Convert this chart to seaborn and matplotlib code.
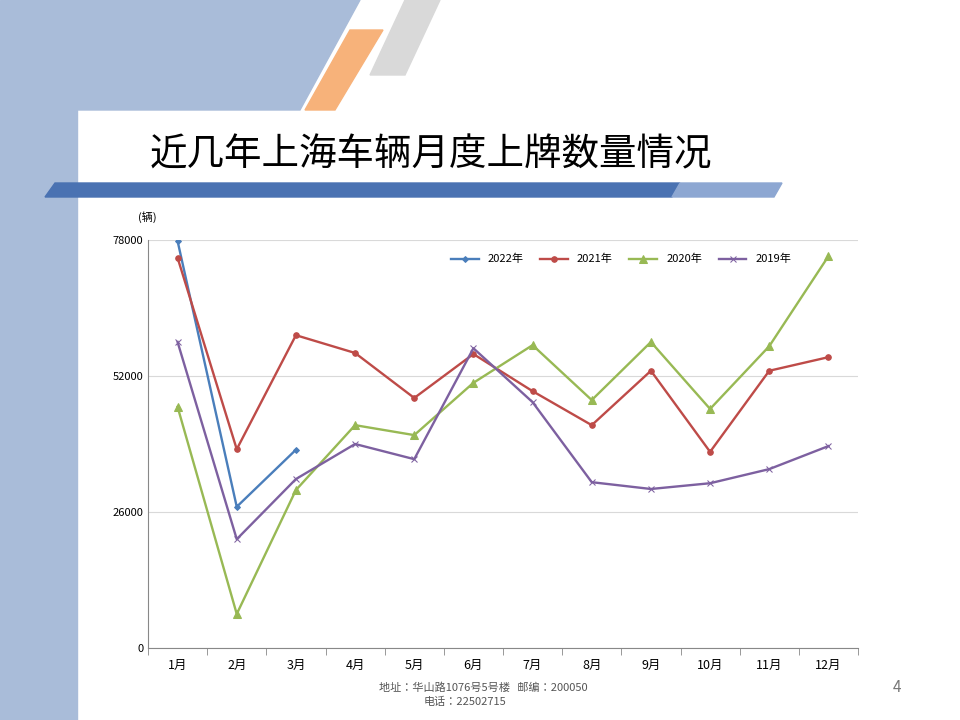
import matplotlib
matplotlib.use("Agg")
import matplotlib.pyplot as plt
from matplotlib import font_manager
from matplotlib.patches import Rectangle, Polygon
import seaborn as sns
import pandas as pd

cjk = sorted({f.name for f in font_manager.fontManager.ttflist if "CJK" in f.name})
pref = [n for n in ["Noto Sans CJK SC", "Noto Sans CJK JP"] if n in cjk] or cjk
plt.rcParams["font.family"] = "sans-serif"
plt.rcParams["font.sans-serif"] = pref + ["DejaVu Sans"]

months = [f"{i}月" for i in range(1, 13)]
s2022 = [77800, 27000, 37900]
s2021 = [74600, 38000, 59800, 56400, 47800, 56200, 49100, 42600, 53000, 37500, 53000, 55600]
s2020 = [46100, 6500, 30200, 42600, 40700, 50700, 57900, 47400, 58500, 45700, 57700, 74900]
s2019 = [58500, 20800, 32300, 39000, 36100, 57300, 47000, 31700, 30400, 31500, 34200, 38600]
y_ticks = [0, 26000, 52000, 78000]

series = {"2022年": s2022, "2021年": s2021, "2020年": s2020, "2019年": s2019}
rows = []
for name, vals in series.items():
    for i, v in enumerate(vals):
        rows.append({"series": name, "month": i, "value": v})
df = pd.DataFrame(rows)

fig = plt.figure(figsize=(9.6, 7.2), dpi=100)
W, H = 960, 720

def px(x, y, w, h, **kw):
    fig.patches.append(Rectangle((x / W, 1 - (y + h) / H), w / W, h / H,
                                 transform=fig.transFigure, **kw))

def poly(pts, **kw):
    fig.patches.append(Polygon([(x / W, 1 - y / H) for x, y in pts],
                               transform=fig.transFigure, **kw))

# slide background
px(0, 0, 77, 720, color="#a9bcd9", zorder=-5)
poly([(77, 0), (360, 0), (300, 110), (77, 110)], color="#a9bcd9", zorder=-5)
poly([(350, 30), (383, 30), (335, 110), (305, 110)], color="#f7b27a", zorder=-5)
poly([(405, 0), (440, 0), (405, 75), (370, 75)], color="#d9d9d9", zorder=-5)
poly([(55, 183), (680, 183), (672, 197), (45, 197)], color="#4a72b2", zorder=-5)
poly([(680, 183), (782, 183), (774, 197), (672, 197)], color="#8da7d2", zorder=-5)

fig.text(150 / W, 1 - 155 / H, "近几年上海车辆月度上牌数量情况", fontsize=27,
         va="center", ha="left", color="black")

ax = fig.add_axes([148 / W, 72 / H, 710 / W, 408 / H])
ax.set_zorder(5)
palette = {"2022年": "#4a7ebb", "2021年": "#be4b48", "2020年": "#98b954", "2019年": "#7d60a0"}
markers = {"2022年": "D", "2021年": "o", "2020年": "^", "2019年": "x"}
sizes = {"2022年": 3, "2021年": 4, "2020年": 6, "2019年": 5}
for name in series:
    sub = df[df.series == name]
    sns.lineplot(data=sub, x="month", y="value", ax=ax, color=palette[name],
                 marker=markers[name], markersize=sizes[name],
                 markeredgecolor=palette[name], linewidth=1.7, label=name)

ax.set_xlim(-0.5, 11.5)
ax.set_ylim(0, 78000)
ax.set_xticks(range(12))
ax.set_xticklabels(months, fontsize=9)
ax.set_yticks(y_ticks)
ax.set_yticklabels([str(t) for t in y_ticks], fontsize=8)
ax.set_xlabel("")
ax.set_ylabel("")
ax.grid(axis="y", color="#d9d9d9", linewidth=0.8)
ax.set_axisbelow(True)
for s in ["top", "right"]:
    ax.spines[s].set_visible(False)
ax.spines["left"].set_color("#888888")
ax.spines["bottom"].set_color("#888888")
ax.tick_params(axis="y", length=0)
ax.set_xticks([i + 0.5 for i in range(-1, 12)], minor=True)
ax.tick_params(axis="x", which="major", length=0, pad=8)
ax.tick_params(axis="x", which="minor", length=5, color="#888888")
ax.legend(loc="upper right", bbox_to_anchor=(0.92, 0.99), ncol=4, frameon=False,
          fontsize=8, handlelength=2.5, columnspacing=1.5)
fig.text(138 / W, 1 - 221 / H, "(辆)", fontsize=8)

fig.text(483 / W, 1 - 688 / H, "地址：华山路1076号5号楼   邮编：200050",
         fontsize=8, ha="center", va="center", color="#555555")
fig.text(465 / W, 1 - 702 / H, "电话：22502715", fontsize=8, ha="center",
         va="center", color="#555555")
fig.text(897 / W, 1 - 688 / H, "4", fontsize=11, ha="center", va="center", color="#777777")

fig.savefig("out.png", dpi=100)
